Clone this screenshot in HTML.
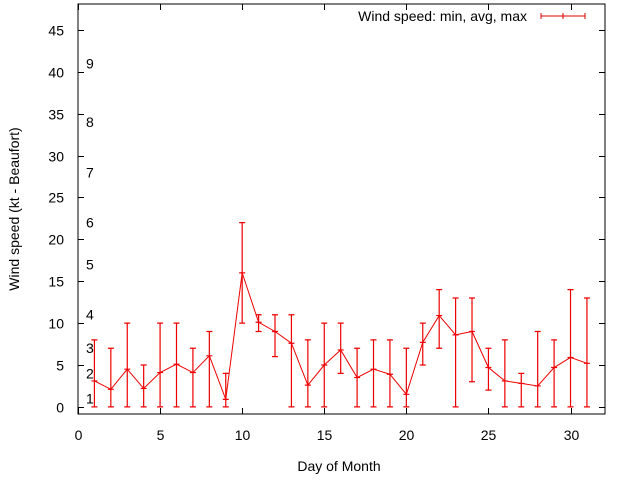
<!DOCTYPE html>
<html><head><meta charset="utf-8"><style>
body{margin:0;background:#fff}
svg{display:block;font-family:"Liberation Sans",sans-serif}
</style></head><body>
<svg width="640" height="480">
<rect x="0" y="0" width="640" height="480" fill="#fff"/>
<g id="axes"></g>
<g id="marks"></g>
<text x="339" y="471" font-size="14" text-anchor="middle">Day of Month</text>
<text transform="translate(19,209) rotate(-90)" font-size="14" text-anchor="middle">Wind speed (kt - Beaufort)</text>
<g>
<text x="527" y="21" font-size="14" text-anchor="end">Wind speed: min, avg, max</text>
<path d="M541 16H585M541 13V19M563 13V19M585 13V19" stroke="#d00" stroke-width="1" fill="none"/>
</g>
</svg>
<script>
const days=[1,2,3,4,5,6,7,8,9,10,11,12,13,14,15,16,17,18,19,20,21,22,23,24,25,26,27,28,29,30,31];
const avgSpeed=[3.1,2.1,4.5,2.2,4.1,5.1,4.1,6.1,0.9,16,10.1,9,7.6,2.6,5,6.8,3.5,4.5,3.9,1.5,7.7,10.9,8.6,9,4.7,3.1,2.8,2.5,4.7,5.9,5.2];
const minSpeed=[0,0,0,0,0,0,0,0,0,10,9,6,0,0,0,4,0,0,0,0,5,7,0,3,2,0,0,0,0,0,0];
const maxSpeed=[8,7,10,5,10,10,7,9,4,22,11,11,11,8,10,10,7,8,8,7,10,14,13,13,7,8,4,9,8,14,13];
const xTicks=[0,5,10,15,20,25,30];
const yTicks=[0,5,10,15,20,25,30,35,40,45];
const beaufort=[["1",1],["2",4],["3",7],["4",11],["5",17],["6",22],["7",28],["8",34],["9",41]];
const X0=78,X1=605,Y0=4,Y1=414,xmin=0,xmax=32.1,ymin=-0.85,ymax=48.1;
const sx=v=>X0+(v-xmin)/(xmax-xmin)*(X1-X0);
const sy=v=>Y1-(v-ymin)/(ymax-ymin)*(Y1-Y0);
const NS="http://www.w3.org/2000/svg";
const ax=document.getElementById('axes'),mk=document.getElementById('marks');
function mkEl(t,a,p){const e=document.createElementNS(NS,t);for(const k in a)e.setAttribute(k,a[k]);p.appendChild(e);return e;}
const frame=mkEl('rect',{x:X0,y:Y0,width:X1-X0,height:Y1-Y0,fill:'none',stroke:'#000','stroke-width':1},ax);


xTicks.forEach(v=>{const x=Math.round(sx(v))+0.5;
const t=mkEl('path',{d:`M${x} ${Y1}v-6M${x} ${Y0}v6`,stroke:'#000'},ax);


const l=mkEl('text',{x:x,y:Y1+26,'font-size':14,'text-anchor':'middle'},ax);l.textContent=v;

});
yTicks.forEach(v=>{const y=Math.round(sy(v))+0.5;
const t=mkEl('path',{d:`M${X0} ${y}h6M${X1} ${y}h-6`,stroke:'#000'},ax);


const l=mkEl('text',{x:X0-14,y:y+5,'font-size':14,'text-anchor':'end'},ax);l.textContent=v;

});
beaufort.forEach(([lab,v])=>{const l=mkEl('text',{x:86,y:sy(v)+5,'font-size':14},ax);l.textContent=lab;

});
let d='';
days.forEach((dd,i)=>{const x=sx(dd);d+=(i?'L':'M')+x+' '+sy(avgSpeed[i]);
const x0=sx(dd),ya=sy(minSpeed[i]),yb=sy(maxSpeed[i]),ym=sy(avgSpeed[i]);
const e=mkEl('path',{d:`M${x0} ${ya}V${yb}M${x0-3} ${ya}h6M${x0-3} ${yb}h6M${x0-3} ${ym}h6`,stroke:'#e00','stroke-width':1.2,fill:'none'},mk);

});
const ln=mkEl('path',{d:d,stroke:'#e00','stroke-width':1,fill:'none'},mk);


</script>
</body></html>
